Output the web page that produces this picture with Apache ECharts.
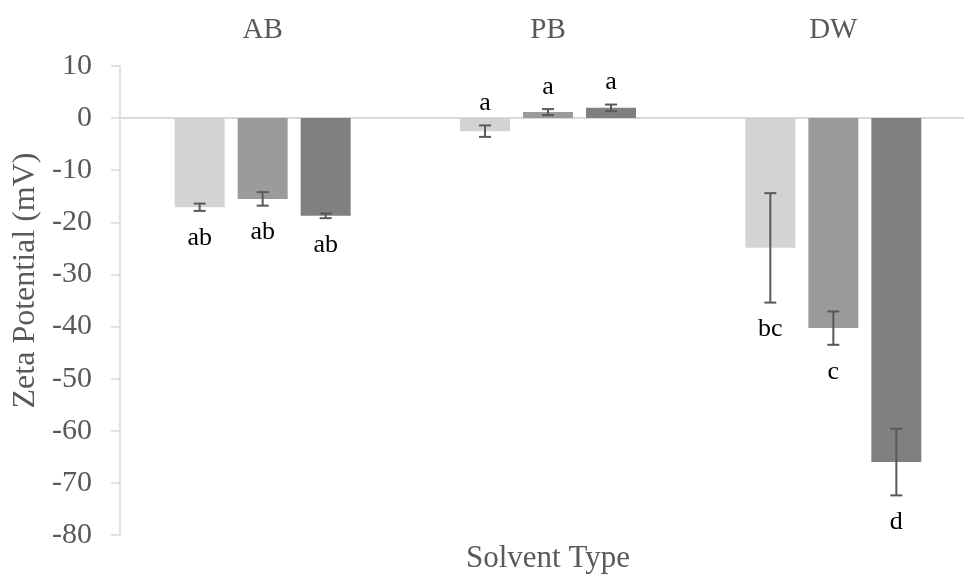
<!DOCTYPE html>
<html>
<head>
<meta charset="utf-8">
<style>
  html, body { margin: 0; padding: 0; background: #ffffff; }
  #chart { width: 964px; height: 576px; }
</style>
<script src="https://cdn.jsdelivr.net/npm/echarts@6/dist/echarts.min.js"></script>
</head>
<body>
<div id="chart"></div>
<script>
// Zeta potential by solvent type, three replicate treatments per solvent
const categories = ['AB', 'PB', 'DW'];

const meanA = [-17.1, -2.5, -24.9];
const meanB = [-15.5, 1.15, -40.3];
const meanC = [-18.75, 1.97, -66.0];

const errA = [0.7, 1.1, 10.5];
const errB = [1.3, 0.58, 3.2];
const errC = [0.45, 0.63, 6.4];

const lettersA = ['ab', 'a', 'bc'];
const lettersB = ['ab', 'a', 'c'];
const lettersC = ['ab', 'a', 'd'];

const yTicks = [10, 0, -10, -20, -30, -40, -50, -60, -70, -80];

const barColors = ['#d3d3d3', '#9b9b9b', '#808080'];
const BAR_W = 50;
const GAP_PX = 13;
const FONT = '"Liberation Serif", "Times New Roman", serif';
const AXIS_TEXT = '#595959';

const groups = [
  { mean: meanA, err: errA, letters: lettersA },
  { mean: meanB, err: errB, letters: lettersB },
  { mean: meanC, err: errC, letters: lettersC }
];

// a category gets its letters above the bars when any of its means is positive
const lettersAbove = categories.map((_, i) => groups.some(g => g.mean[i] > 0));

function errorSeries(gi) {
  const g = groups[gi];
  const shift = (gi - 1) * (BAR_W + GAP_PX);
  return {
    type: 'custom',
    xAxisIndex: 0,
    yAxisIndex: 0,
    z: 5,
    silent: true,
    data: categories.map((c, i) => [i, g.mean[i], g.err[i]]),
    renderItem: function (params, api) {
      const i = api.value(0);
      const m = api.value(1);
      const e = api.value(2);
      const hi = api.coord([i, m + e]);
      const lo = api.coord([i, m - e]);
      const x = hi[0] + shift;
      const cap = 6;
      const style = { stroke: '#595959', lineWidth: 2 };
      const above = lettersAbove[i];
      const ty = above ? hi[1] - 22 : lo[1] + 27;
      return {
        type: 'group',
        children: [
          { type: 'line', shape: { x1: x, y1: hi[1], x2: x, y2: lo[1] }, style },
          { type: 'line', shape: { x1: x - cap, y1: hi[1], x2: x + cap, y2: hi[1] }, style },
          { type: 'line', shape: { x1: x - cap, y1: lo[1], x2: x + cap, y2: lo[1] }, style },
          {
            type: 'text',
            style: {
              x: x, y: ty,
              text: g.letters[i],
              fill: '#000000',
              font: '26px ' + FONT,
              align: 'center',
              verticalAlign: 'middle'
            }
          }
        ]
      };
    }
  };
}

const barSeries = groups.map((g, gi) => ({
  type: 'bar',
  xAxisIndex: 0,
  yAxisIndex: 0,
  data: g.mean,
  barWidth: BAR_W,
  barGap: (GAP_PX / BAR_W * 100) + '%',
  itemStyle: { color: barColors[gi] },
  silent: true,
  markLine: gi === 0 ? {
    silent: true,
    symbol: 'none',
    label: { show: false },
    lineStyle: { color: '#d9d9d9', width: 2, type: 'solid' },
    data: [{ yAxis: 0 }],
    z: 1
  } : undefined
}));

const chart = echarts.init(document.getElementById('chart'), null, { renderer: 'canvas' });
chart.setOption({
  animation: false,
  backgroundColor: '#ffffff',
  grid: { left: 120, right: -12, top: 66, bottom: 41, containLabel: false, outerBoundsMode: 'none' },
  xAxis: [
    {
      type: 'category',
      data: categories,
      position: 'bottom',
      axisLine: { show: false, onZero: false },
      axisTick: { show: false },
      axisLabel: { show: false },
      splitLine: { show: false },
      name: 'Solvent Type',
      nameLocation: 'middle',
      nameGap: 8,
      nameTextStyle: { fontFamily: FONT, fontSize: 31, color: AXIS_TEXT, verticalAlign: 'top' }
    },
    {
      type: 'category',
      data: categories,
      position: 'top',
      axisLine: { show: false, onZero: false },
      axisTick: { show: false },
      axisLabel: { fontFamily: FONT, fontSize: 29, color: AXIS_TEXT, margin: 21 },
      splitLine: { show: false }
    }
  ],
  yAxis: {
    type: 'value',
    min: yTicks[yTicks.length - 1],
    max: yTicks[0],
    interval: 10,
    axisLine: { show: true, lineStyle: { color: '#d9d9d9', width: 1.5 } },
    axisTick: { show: true, length: 9, lineStyle: { color: '#d9d9d9', width: 1.5 } },
    axisLabel: { fontFamily: FONT, fontSize: 30, color: AXIS_TEXT, margin: 28 },
    splitLine: { show: false },
    name: 'Zeta Potential (mV)',
    nameLocation: 'middle',
    nameGap: 77,
    nameTextStyle: { fontFamily: FONT, fontSize: 32, color: AXIS_TEXT, padding: [0, 0, 0, 40] }
  },
  series: barSeries.concat([errorSeries(0), errorSeries(1), errorSeries(2)])
});
</script>
</body>
</html>
